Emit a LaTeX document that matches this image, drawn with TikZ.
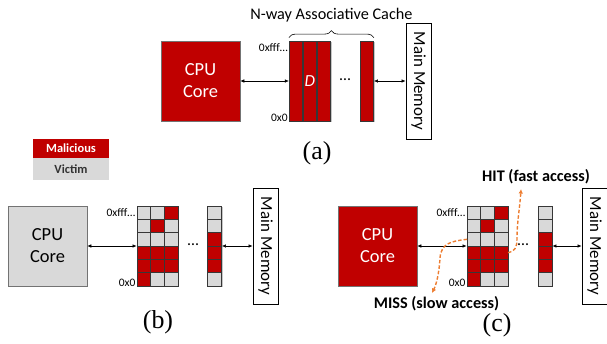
\documentclass[tikz,border=0pt]{standalone}
\usepackage{fontspec}
\setmainfont{Carlito}
\newfontfamily\capfont{Liberation Serif}
\usetikzlibrary{arrows.meta,decorations.pathreplacing,shadows,positioning}

\definecolor{malred}{RGB}{192,0,0}
\definecolor{victimgray}{RGB}{217,217,217}
\definecolor{accessorange}{RGB}{237,125,49}
\definecolor{celledge}{RGB}{55,55,55}

\tikzset{
  boxshadow/.style={drop shadow={shadow xshift=1.2bp, shadow yshift=-1.2bp, opacity=0.45}},
  core/.style={draw=black!55, line width=0.6bp, minimum width=79bp, minimum height=80bp,
    align=center, font=\fontsize{18.5}{22}\selectfont, boxshadow},
  memory/.style={draw=black, fill=white, line width=0.8bp, rotate=-90, minimum width=116bp,
    minimum height=25bp, inner sep=0pt, font=\fontsize{17}{20}\selectfont,
    drop shadow={shadow xshift=1bp, shadow yshift=-1bp, opacity=0.25}},
  way/.style={draw=celledge, fill=malred, line width=0.8bp, minimum width=13bp,
    minimum height=80bp, inner sep=0pt, boxshadow},
  frame/.style={draw=celledge, line width=0.8bp, minimum height=80bp, inner sep=0pt, boxshadow},
  cell/.style={draw=celledge, line width=0.8bp, minimum width=13.67bp, minimum height=13.33bp,
    inner sep=0pt, outer sep=0pt},
  addr/.style={font=\fontsize{11.5}{12}\selectfont, anchor=east, inner sep=1bp},
  link/.style={{Latex[length=4bp,width=3.5bp]}-{Latex[length=4bp,width=3.5bp]}, line width=0.6bp},
  access/.style={accessorange, dashed, dash pattern=on 3.5bp off 2bp, line width=1.4bp,
    -{Latex[length=4.5bp,width=4.5bp]}},
  accesslabel/.style={font=\bfseries\fontsize{16.3}{18}\selectfont, inner sep=1bp},
  caption/.style={font=\capfont\fontsize{26}{28}\selectfont},
  legend/.style={minimum width=76bp, inner sep=0pt, font=\bfseries\fontsize{12.5}{14}\selectfont},
}

% cache set: #1 name, #2 left, #3 top, #4 left of last way
\newcommand{\cacheset}[4]{
  \node[frame, minimum width=41bp] (#1) at (#2+20.5,#3+40) {};
  \foreach \r/\ca/\cb/\cc in {1/victimgray/victimgray/malred, 2/victimgray/malred/victimgray,
      3/victimgray/victimgray/victimgray, 4/malred/malred/malred,
      5/malred/malred/malred, 6/malred/victimgray/victimgray}
    \foreach \c/\col in {1/\ca, 2/\cb, 3/\cc}
      \node[cell, fill=\col] (#1-\r-\c) at (#2+13.67*\c-6.83,#3+13.33*\r-6.67) {};
  % last way
  \node[frame, minimum width=14bp] (#1last) at (#4+7,#3+40) {};
  \foreach \r/\col in {1/victimgray, 2/victimgray, 3/malred, 4/malred, 5/malred, 6/victimgray}
    \node[cell, minimum width=14bp, fill=\col] (#1last-\r) at (#4+7,#3+13.33*\r-6.67) {};
}

\begin{document}
\begin{tikzpicture}[x=1bp,y=-1bp]
  \useasboundingbox (0,0) rectangle (607,343);

  % (a) N-way cache
  \node[core, fill=malred, text=white] (cpuA) at (200.5,81) {CPU\\Core};
  \foreach \i/\cx in {1/295.8, 2/309.8, 3/323.8, 4/367}
    \node[way] (wayA\i) at (\cx,81) {};
  \node[text=white, font=\itshape\fontsize{17}{18}\selectfont] (dirty) at (wayA2) {D};
  \node[font=\fontsize{16}{16}\selectfont] (dotsA) at (345,80) {\dots};
  \node[memory] (memA) at (418.5,81) {Main Memory};
  \node[addr] (topA) at ([yshift=-7bp]wayA1.north west) {0xfff\dots};
  \node[addr] (botA) at ([yshift=4bp]wayA1.south west) {0x0};
  \draw[link] (cpuA.east) -- (wayA1.west);
  \draw[link] (wayA4.east) -- (memA.south);
  \draw[decorate, decoration={brace, amplitude=7bp}, line width=0.6bp]
    ([yshift=3bp]wayA1.north west) -- ([yshift=3bp]wayA4.north east)
    node[midway, above=12bp, font=\fontsize{16.3}{18}\selectfont] (waysA) {N-way Associative Cache};
  \node[caption] (capA) at (317,153) {(a)};

  % legend
  \node[legend, fill=malred, text=white, minimum height=19bp] (malicious) at (71,148.5) {Malicious};
  \node[legend, fill=victimgray, text=black!80, minimum height=22bp, below=0pt of malicious] (victim) {Victim};

  % (b) shared cache, victim core
  \node[core, fill=victimgray] (cpuB) at (47.5,246) {CPU\\Core};
  \cacheset{gridB}{137}{206}{207.5}
  \node[font=\fontsize{16}{16}\selectfont] (dotsB) at (193,245) {\dots};
  \node[memory] (memB) at (265.5,246) {Main Memory};
  \node[addr] (topB) at ([yshift=-7bp]gridB.north west) {0xfff\dots};
  \node[addr] (botB) at ([yshift=4bp]gridB.south west) {0x0};
  \draw[link] (cpuB.east) -- (gridB.west);
  \draw[link] (gridBlast.east) -- (memB.south);
  \node[caption] (capB) at (158,322) {(b)};

  % (c) shared cache, malicious core
  \node[core, fill=malred, text=white] (cpuC) at (377.5,246) {CPU\\Core};
  \cacheset{gridC}{467}{206}{538}
  \node[font=\fontsize{16}{16}\selectfont] (dotsC) at (523,245) {\dots};
  \node[memory] (memC) at (594.5,246) {Main Memory};
  \node[addr] (topC) at ([yshift=-7bp]gridC.north west) {0xfff\dots};
  \node[addr] (botC) at ([yshift=4bp]gridC.south west) {0x0};
  \draw[link] (cpuC.east) -- (gridC.west);
  \draw[link] (gridClast.east) -- (memC.south);
  \node[caption] (capC) at (497,325) {(c)};

  % hit / miss
  \node[accesslabel] (hit) at (536,177) {HIT (fast access)};
  \node[accesslabel] (miss) at (436.5,304) {MISS (slow access)};
  \coordinate (hitEnd) at (521,189);
  \coordinate (missEnd) at (432,293);
  \draw[access] (gridC-4-3.east) .. controls (515,251) and (517,248) .. (517,238)
    .. controls (517,222) and (520,206) .. (hitEnd);
  \draw[access] (gridC-3-1.west) .. controls (452,241) and (441,243) .. (440,258)
    .. controls (439,275) and (436,285) .. (missEnd);
\end{tikzpicture}
\end{document}
